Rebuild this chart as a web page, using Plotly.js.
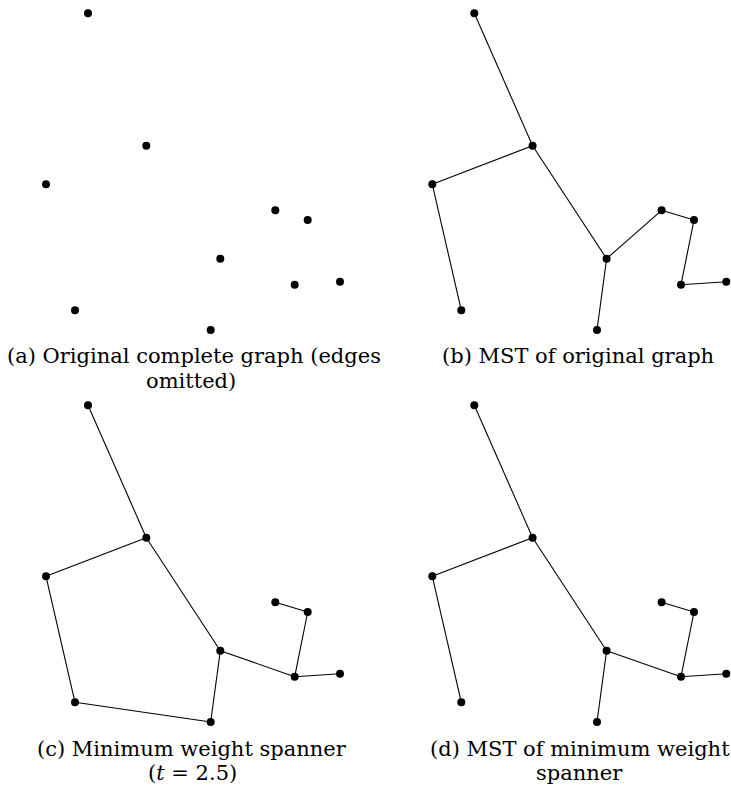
<!DOCTYPE html>
<html>
<head>
<meta charset="utf-8">
<script src="https://cdn.plot.ly/plotly-3.0.1.min.js"></script>
<style>
  html, body { margin: 0; padding: 0; background: #ffffff; }
  #chart { width: 731px; height: 791px; }
</style>
</head>
<body>
<div id="chart"></div>
<script>
// Point positions (same point set in every panel; y grows downward)
const pointX = [88, 146.3, 46, 275.3, 307.7, 220.3, 294.7, 340, 75, 210.7];
const pointY = [13.3, 145.7, 184.3, 210.3, 220, 258.7, 284.7, 281.7, 310.3, 330];

// Edge lists (pairs of point indices)
const edgesA = [];
const edgesB = [[0,1],[1,2],[2,8],[1,5],[5,9],[5,3],[3,4],[4,6],[6,7]];
const edgesC = [[0,1],[1,2],[2,8],[8,9],[9,5],[1,5],[5,6],[6,7],[6,4],[4,3]];
const edgesD = [[0,1],[1,2],[2,8],[1,5],[5,9],[5,6],[6,7],[6,4],[4,3]];

// Caption lines
const captionA = ["(a) Original complete graph (edges", "omitted)"];
const captionB = ["(b) MST of original graph"];
const captionC = ["(c) Minimum weight spanner", "(<i>t</i> = 2.5)"];
const captionD = ["(d) MST of minimum weight", "spanner"];

const W = 731, H = 791;
const splitX = 386.3, splitY = 392;

function edgeXY(edges) {
  const x = [], y = [];
  edges.forEach(([a, b]) => {
    x.push(pointX[a], pointX[b], null);
    y.push(pointY[a], pointY[b], null);
  });
  return {x, y};
}

const panels = [
  {edges: edgesA, xa: 'x', ya: 'y'},
  {edges: edgesB, xa: 'x2', ya: 'y'},
  {edges: edgesC, xa: 'x', ya: 'y2'},
  {edges: edgesD, xa: 'x2', ya: 'y2'}
];

const traces = [];
panels.forEach(p => {
  const e = edgeXY(p.edges);
  if (p.edges.length) {
    traces.push({
      x: e.x, y: e.y, xaxis: p.xa, yaxis: p.ya,
      type: 'scatter', mode: 'lines',
      line: {color: '#000000', width: 1.1},
      hoverinfo: 'skip', cliponaxis: false, showlegend: false
    });
  }
  traces.push({
    x: pointX, y: pointY, xaxis: p.xa, yaxis: p.ya,
    type: 'scatter', mode: 'markers',
    marker: {color: '#000000', size: 8, line: {width: 0}},
    cliponaxis: false, showlegend: false
  });
});

const axisBase = {showgrid: false, zeroline: false, showticklabels: false, ticks: '', showline: false, fixedrange: true};

const fontCap = {family: 'DejaVu Serif', size: 21, color: '#000000'};
function cap(text, cx, cy) {
  return {text: text, xref: 'paper', yref: 'paper', x: cx / W, y: 1 - cy / H,
          xanchor: 'center', yanchor: 'middle', showarrow: false, font: fontCap};
}

const annotations = [
  cap(captionA[0], 194, 356), cap(captionA[1], 191, 381),
  cap(captionB[0], 578, 356),
  cap(captionC[0], 192, 749), cap(captionC[1], 192, 773),
  cap(captionD[0], 579.5, 749), cap(captionD[1], 579.5, 773)
];

const layout = {
  width: W, height: H,
  margin: {l: 0, r: 0, t: 0, b: 0, pad: 0},
  paper_bgcolor: '#ffffff', plot_bgcolor: 'rgba(0,0,0,0)',
  showlegend: false,
  xaxis: Object.assign({}, axisBase, {domain: [0, splitX / W], range: [0, splitX]}),
  xaxis2: Object.assign({}, axisBase, {domain: [splitX / W, 1], range: [0, W - splitX]}),
  yaxis: Object.assign({}, axisBase, {domain: [1 - splitY / H, 1], range: [splitY, 0]}),
  yaxis2: Object.assign({}, axisBase, {domain: [0, 1 - splitY / H], range: [H - splitY, 0]}),
  annotations: annotations
};

Plotly.newPlot('chart', traces, layout, {staticPlot: true, displayModeBar: false});
</script>
</body>
</html>
